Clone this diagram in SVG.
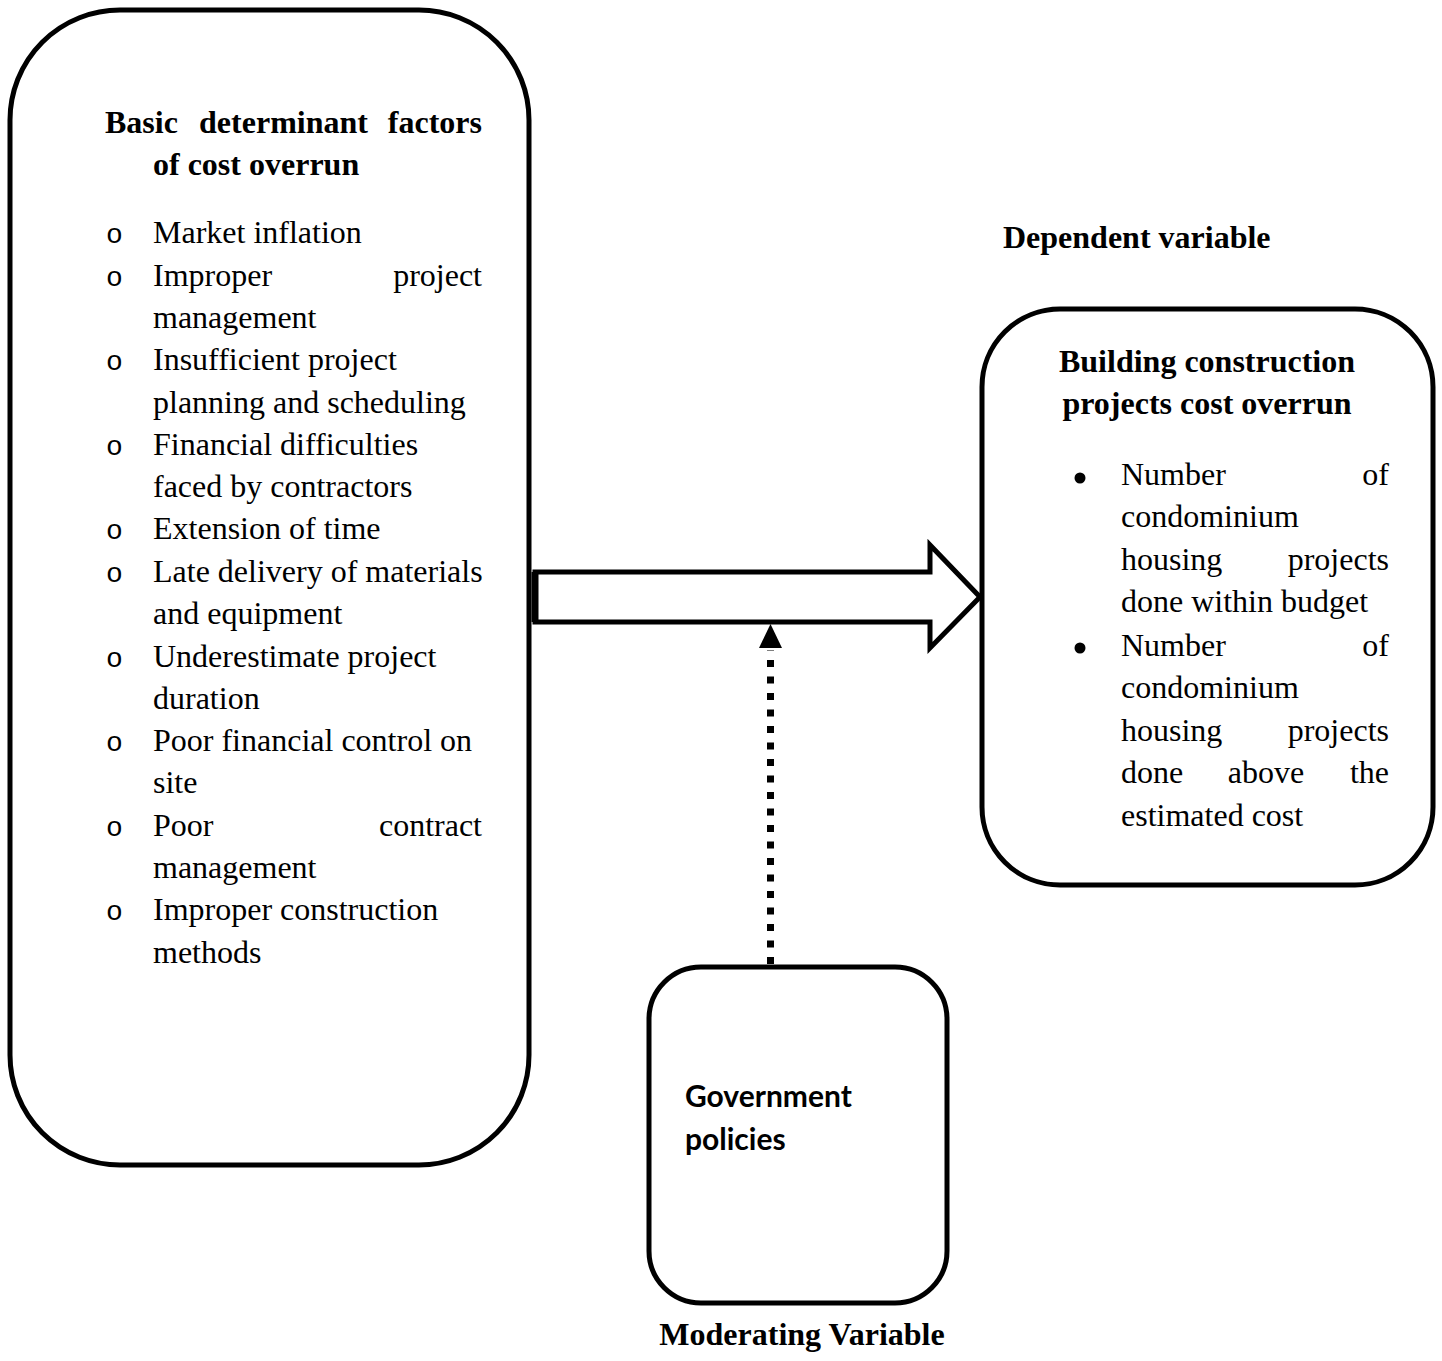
<svg xmlns="http://www.w3.org/2000/svg" width="1442" height="1361" viewBox="0 0 1442 1361">
<style>
.box{fill:#fff;stroke:#000;stroke-width:5}
.t{font-family:"Liberation Serif","Times New Roman",serif;font-size:32px;fill:#000}
.b{font-weight:bold}
.bul{font-family:"Liberation Mono","Courier New",monospace;font-size:28px;fill:#000}
.c{font-family:Lato,"Open Sans",sans-serif;font-weight:bold;font-size:30px;fill:#000}
</style>
<rect width="1442" height="1361" fill="#fff"/>

<g id="connectors">
<path d="M535,572 H930 V545 L980,597 L930,648 V622 H535 Z" fill="#fff" stroke="#000" stroke-width="5" stroke-linejoin="miter"/>
<line x1="535" y1="572" x2="535" y2="622" stroke="#000" stroke-width="7"/>
<line x1="770.5" y1="964" x2="770.5" y2="650" stroke="#000" stroke-width="7" stroke-dasharray="7 9.5"/>
<path d="M770.5,624 L782,648 L759,648 Z" fill="#000"/>
</g>

<g id="node-determinants">
<rect class="box" x="10" y="10" width="519" height="1155" rx="110" ry="110"/>
<text class="t b" y="133"><tspan x="105">Basic</tspan><tspan x="283.5" text-anchor="middle">determinant</tspan><tspan x="482" text-anchor="end">factors</tspan></text>
<text class="t b" x="153" y="175">of cost overrun</text>
<g class="bul">
<text x="106" y="243">o</text>
<text x="106" y="286">o</text>
<text x="106" y="370">o</text>
<text x="106" y="455">o</text>
<text x="106" y="539">o</text>
<text x="106" y="582">o</text>
<text x="106" y="667">o</text>
<text x="106" y="751">o</text>
<text x="106" y="836">o</text>
<text x="106" y="920">o</text>
</g>
<text class="t" x="153" y="243">Market inflation</text>
<text class="t" y="286"><tspan x="153">Improper</tspan><tspan x="482" text-anchor="end">project</tspan></text>
<text class="t" x="153" y="328">management</text>
<text class="t" x="153" y="370">Insufficient project</text>
<text class="t" x="153" y="413">planning and scheduling</text>
<text class="t" x="153" y="455">Financial difficulties</text>
<text class="t" x="153" y="497">faced by contractors</text>
<text class="t" x="153" y="539">Extension of time</text>
<text class="t" x="153" y="582">Late delivery of materials</text>
<text class="t" x="153" y="624">and equipment</text>
<text class="t" x="153" y="667">Underestimate project</text>
<text class="t" x="153" y="709">duration</text>
<text class="t" x="153" y="751">Poor financial control on</text>
<text class="t" x="153" y="793">site</text>
<text class="t" y="836"><tspan x="153">Poor</tspan><tspan x="482" text-anchor="end">contract</tspan></text>
<text class="t" x="153" y="878">management</text>
<text class="t" x="153" y="920">Improper construction</text>
<text class="t" x="153" y="963">methods</text>
</g>

<text id="label-dependent" class="t b" x="1003" y="248">Dependent variable</text>

<g id="node-dependent">
<rect class="box" x="982" y="309" width="451" height="576" rx="78" ry="78"/>
<text class="t b" x="1207" y="372" text-anchor="middle">Building construction</text>
<text class="t b" x="1207" y="414" text-anchor="middle">projects cost overrun</text>
<circle cx="1080" cy="478" r="5.5"/>
<circle cx="1080" cy="648" r="5.5"/>
<text class="t" y="485"><tspan x="1121">Number</tspan><tspan x="1389" text-anchor="end">of</tspan></text>
<text class="t" x="1121" y="527">condominium</text>
<text class="t" y="570"><tspan x="1121">housing</tspan><tspan x="1389" text-anchor="end">projects</tspan></text>
<text class="t" x="1121" y="612">done within budget</text>
<text class="t" y="656"><tspan x="1121">Number</tspan><tspan x="1389" text-anchor="end">of</tspan></text>
<text class="t" x="1121" y="698">condominium</text>
<text class="t" y="741"><tspan x="1121">housing</tspan><tspan x="1389" text-anchor="end">projects</tspan></text>
<text class="t" y="783"><tspan x="1121">done</tspan><tspan x="1266" text-anchor="middle">above</tspan><tspan x="1389" text-anchor="end">the</tspan></text>
<text class="t" x="1121" y="826">estimated cost</text>
</g>

<g id="node-moderating">
<rect class="box" x="649" y="967" width="298" height="336" rx="52" ry="52"/>
<text class="c" x="685" y="1107">Government</text>
<text class="c" x="685" y="1150">policies</text>
</g>

<text id="label-moderating" class="t b" x="802" y="1345" text-anchor="middle">Moderating Variable</text>
</svg>
